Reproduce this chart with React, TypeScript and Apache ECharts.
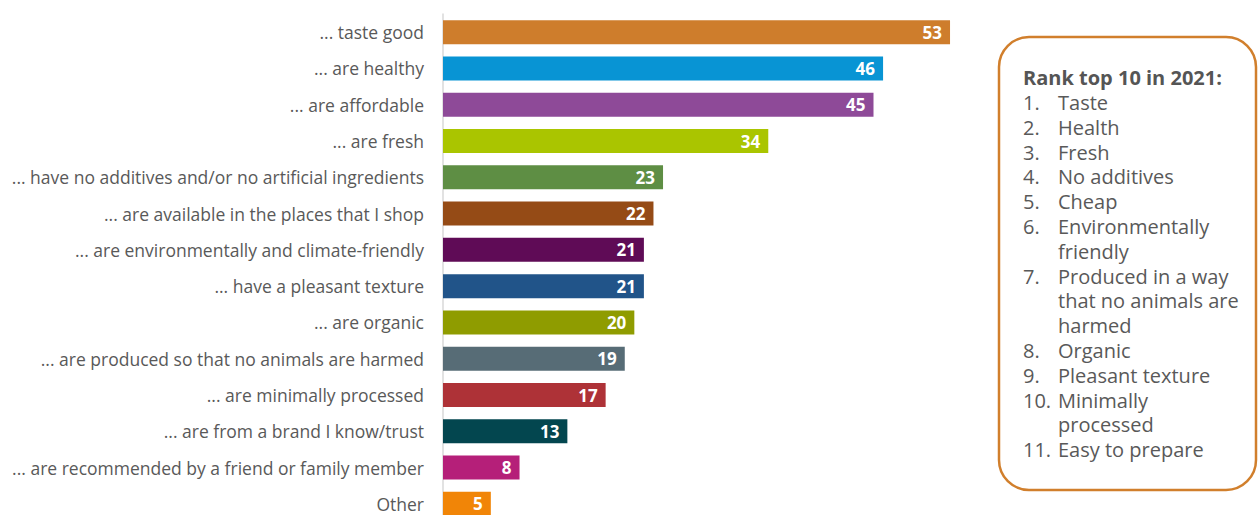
import React, { useEffect, useRef } from "react";
import * as echarts from "echarts";

const categories = [
  "... taste good",
  "... are healthy",
  "... are affordable",
  "... are fresh",
  "... have no additives and/or no artificial ingredients",
  "... are available in the places that I shop",
  "... are environmentally and climate-friendly",
  "... have a pleasant texture",
  "... are organic",
  "... are produced so that no animals are harmed",
  "... are minimally processed",
  "... are from a brand I know/trust",
  "... are recommended by a friend or family member",
  "Other",
];

const values = [53, 46, 45, 34, 23, 22, 21, 21, 20, 19, 17, 13, 8, 5];

const barColors = [
  "#CE7D2C",
  "#0894D4",
  "#8E4A98",
  "#AAC500",
  "#5E8E44",
  "#954B16",
  "#5F0B56",
  "#215489",
  "#8F9C00",
  "#576C76",
  "#AE3237",
  "#03464F",
  "#B51F79",
  "#F18507",
];

const rankTitle = "Rank top 10 in 2021:";
const rankItems: string[][] = [
  ["Taste"],
  ["Health"],
  ["Fresh"],
  ["No additives"],
  ["Cheap"],
  ["Environmentally", "friendly"],
  ["Produced in a way", "that no animals are", "harmed"],
  ["Organic"],
  ["Pleasant texture"],
  ["Minimally", "processed"],
  ["Easy to prepare"],
];

const FONT = "'Open Sans', 'Noto Sans', sans-serif";
const TEXT_COLOR = "#595959";

export default function App() {
  const ref = useRef<HTMLDivElement>(null);

  useEffect(() => {
    if (!ref.current) return;
    const chart = echarts.init(ref.current, undefined, { renderer: "svg" });

    const legendEls: any[] = [];
    legendEls.push({
      type: "rect",
      shape: { x: 999, y: 37, width: 257, height: 453, r: 30 },
      style: { fill: "none", stroke: "#D17F2C", lineWidth: 2.5 },
    });
    legendEls.push({
      type: "text",
      x: 1023,
      y: 77,
      style: {
        text: rankTitle,
        font: `bold 20px ${FONT}`,
        fill: "#555555",
        verticalAlign: "middle",
        lineHeight: 20,
      },
    });
    let line = 0;
    const lineTop = 102.5;
    const lineH = 24.8;
    rankItems.forEach((lines, i) => {
      legendEls.push({
        type: "text",
        x: 1023,
        y: lineTop + line * lineH,
        style: {
          text: `${i + 1}.`,
          font: `20px ${FONT}`,
          fill: TEXT_COLOR,
          verticalAlign: "middle",
          lineHeight: 20,
        },
      });
      lines.forEach((t) => {
        legendEls.push({
          type: "text",
          x: 1058,
          y: lineTop + line * lineH,
          style: {
            text: t,
            font: `20px ${FONT}`,
            fill: TEXT_COLOR,
            verticalAlign: "middle",
            lineHeight: 20,
          },
        });
        line++;
      });
    });

    chart.setOption({
      animation: false,
      grid: { left: 443, top: 14, width: 574, height: 508, containLabel: false },
      xAxis: {
        type: "value",
        min: 0,
        max: 60,
        show: false,
      },
      yAxis: {
        type: "category",
        data: categories,
        inverse: true,
        axisLine: { show: true, lineStyle: { color: "#D9D9D9", width: 1.5 } },
        axisTick: { show: false },
        axisLabel: {
          margin: 19,
          fontFamily: FONT,
          fontSize: 17.5,
          color: TEXT_COLOR,
        },
        splitLine: { show: false },
      },
      series: [
        {
          type: "bar",
          barWidth: 24,
          data: values.map((v, i) => ({
            value: v,
            itemStyle: { color: barColors[i] },
          })),
          label: {
            show: true,
            position: "insideRight",
            distance: 8,
            color: "#ffffff",
            fontFamily: FONT,
            fontWeight: "bold",
            fontSize: 17,
          },
        },
      ],
      graphic: legendEls,
    });

    return () => chart.dispose();
  }, []);

  return (
    <div
      style={{
        position: "absolute",
        left: 0,
        top: 0,
        width: 1258,
        height: 515,
        overflow: "hidden",
      }}
    >
      <div ref={ref} style={{ width: 1258, height: 532 }} />
    </div>
  );
}
